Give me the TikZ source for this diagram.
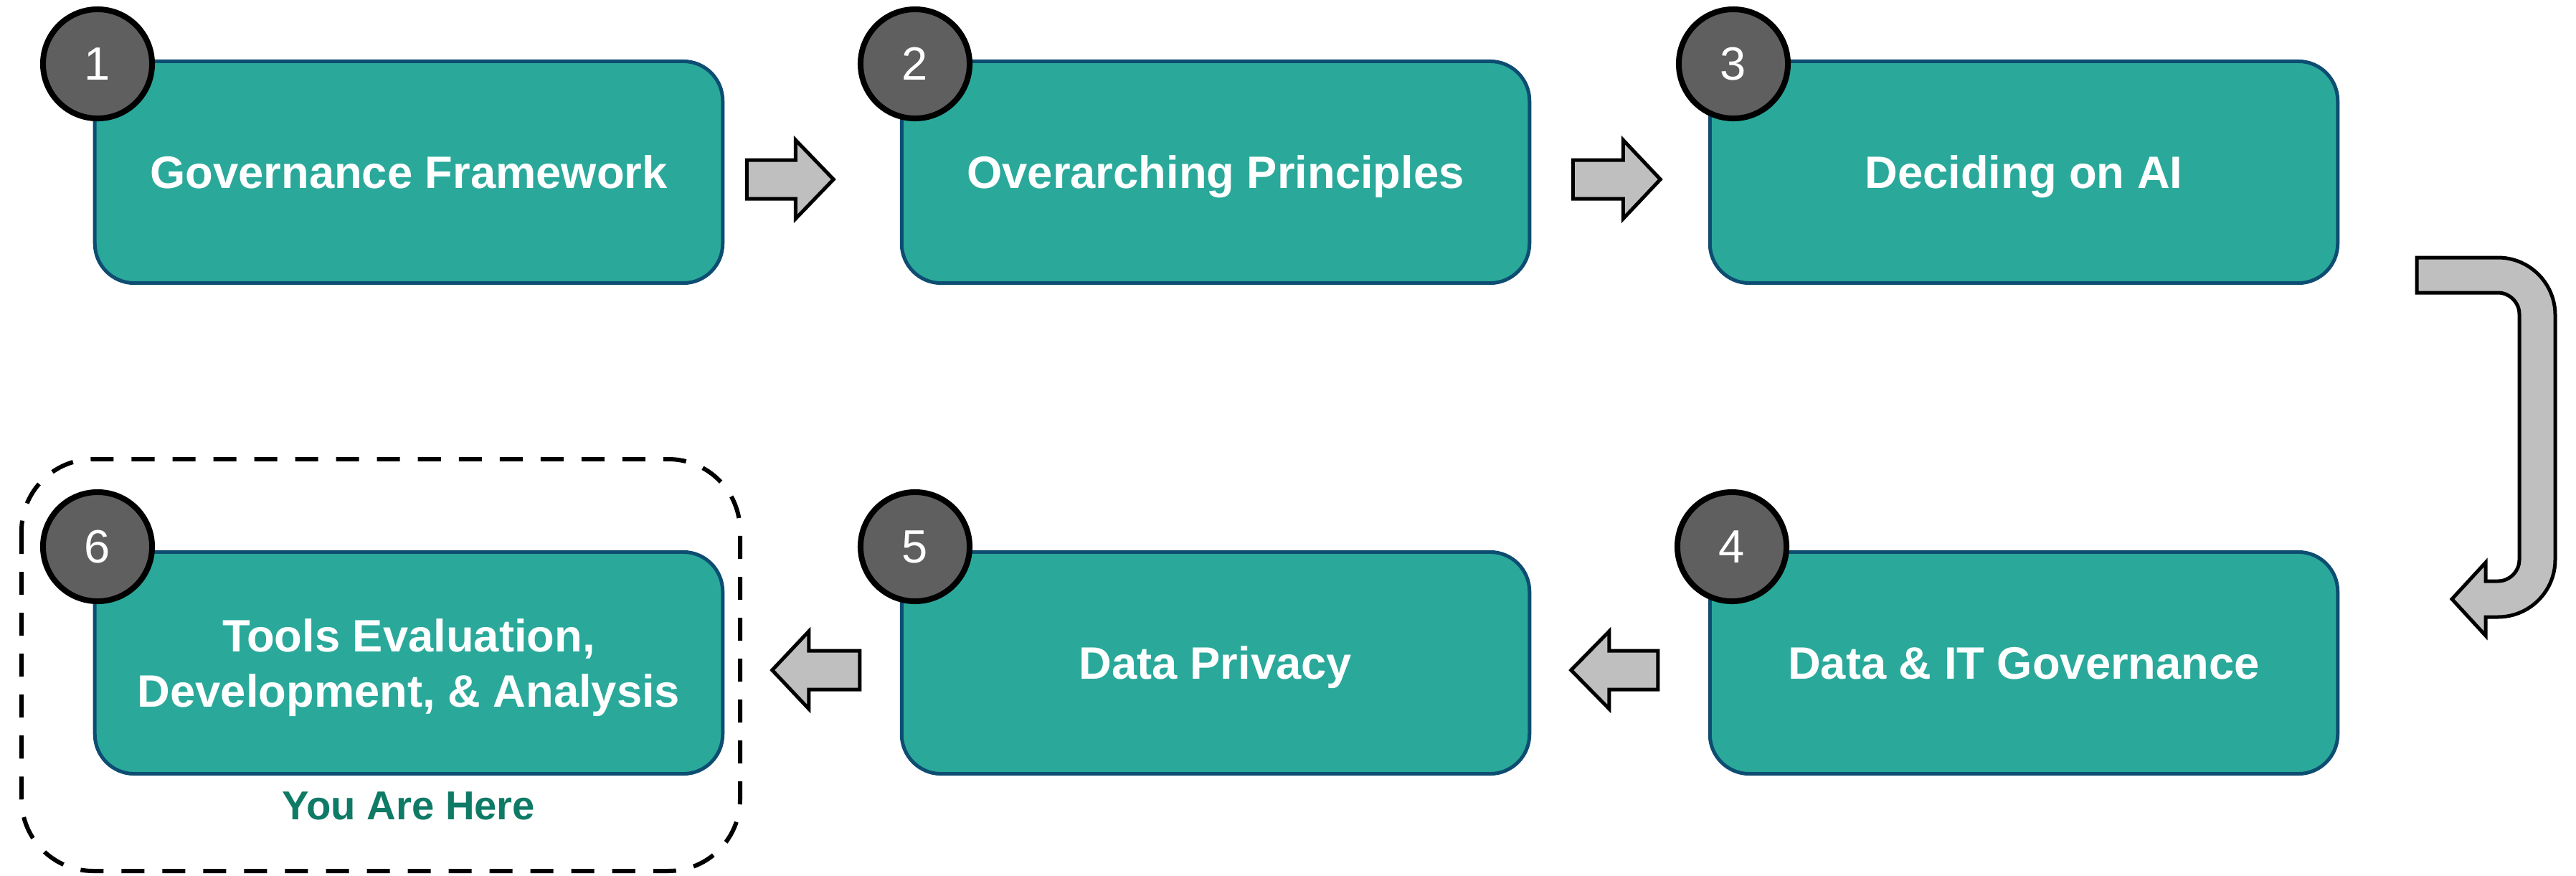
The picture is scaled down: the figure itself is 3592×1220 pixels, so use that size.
\documentclass[tikz,border=0pt]{standalone}
\usepackage{fontspec}
\setmainfont{Liberation Sans}
\definecolor{stepteal}{HTML}{2AA99B}
\definecolor{stepedge}{HTML}{0E4D72}
\definecolor{badgegray}{HTML}{5F5F5F}
\definecolor{arrowgray}{HTML}{BFBFBF}
\definecolor{heretext}{HTML}{0F7A66}
\begin{document}
\begin{tikzpicture}[
    x=0.01cm, y=-0.01cm,
    stepbox/.style={draw=stepedge, fill=stepteal, line width=0.05cm, rounded corners=0.55cm,
        minimum width=8.75cm, minimum height=3.09cm, text=white, align=center,
        text height=13pt, text depth=0pt, font=\bfseries\fontsize{18}{22}\selectfont},
    badge/.style={circle, draw=black, fill=badgegray, line width=0.08cm, minimum size=1.52cm,
        inner sep=0pt, text=white, font=\fontsize{18.5}{20}\selectfont},
    blk/.style={draw=black, fill=arrowgray, line width=0.05cm, line join=miter},
]
\useasboundingbox (0,0) rectangle (3592,1220);

% steps
\node[stepbox] (b1) at (570,240) {Governance Framework};
\node[stepbox] (b2) at (1695,240) {Overarching Principles};
\node[stepbox] (b3) at (2822,240) {Deciding on AI};
\node[stepbox] (b4) at (2822,924) {Data \& IT Governance};
\node[stepbox] (b5) at (1695,924) {Data Privacy};
\node[stepbox, text height=35pt] (b6) at (570,924) {Tools Evaluation,\\Development, \& Analysis};

% numbers
\foreach \n/\x/\y in {1/136/89, 2/1276/89, 3/2417/89, 4/2415/762, 5/1276/762, 6/136/762}{
    \node[badge] (n\n) at (\x,\y) {\n};
}

\node[text=heretext, font=\bfseries\fontsize{16}{18}\selectfont] (here) at (570,1123) {You Are Here};
\draw[line width=0.06cm, dash pattern=on 0.32cm off 0.25cm, rounded corners=1cm]
    (30,640) rectangle (1032,1214);

% arrows
\draw[blk] ([shift={(31,-17)}]b1.east) -- ++(68,0) -- ++(0,-28) -- ++(53,55)
    -- ++(-53,55) -- ++(0,-28) -- ++(-68,0) -- cycle;
\draw[blk] ([shift={(58,-17)}]b2.east) -- ++(70,0) -- ++(0,-28) -- ++(52,55)
    -- ++(-52,55) -- ++(0,-28) -- ++(-70,0) -- cycle;
\draw[blk] ([shift={(-70,-17)}]b4.west) -- ++(-68,0) -- ++(0,-27) -- ++(-53,54)
    -- ++(53,54) -- ++(0,-27) -- ++(68,0) -- cycle;
\draw[blk] ([shift={(-56,-17)}]b5.west) -- ++(-71,0) -- ++(0,-27) -- ++(-51,54)
    -- ++(51,54) -- ++(0,-27) -- ++(71,0) -- cycle;
\draw[blk] (3370,359) -- (3483,359) arc[start angle=270, end angle=360, radius=80]
    -- (3563,780) arc[start angle=0, end angle=90, radius=80] -- (3466,860)
    -- (3466,886) -- (3419,835) -- (3466,784) -- (3466,810) -- (3483,810)
    arc[start angle=90, end angle=0, radius=30] -- (3513,438)
    arc[start angle=0, end angle=-90, radius=30] -- (3370,408) -- cycle;

\end{tikzpicture}
\end{document}
